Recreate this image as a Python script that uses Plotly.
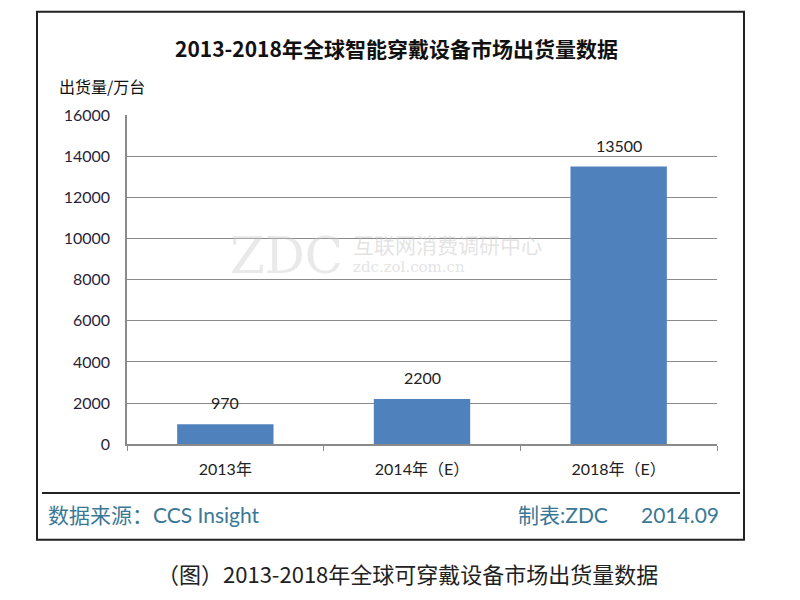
import plotly.graph_objects as go

categories = ["2013年", "2014年（E）", "2018年（E）"]
values = [970, 2200, 13500]
y_ticks = [0, 2000, 4000, 6000, 8000, 10000, 12000, 14000, 16000]

W, H = 800, 600
# vertical calibration of the rendered page
SY, OY = 0.974, 8.26
def px(x):
    return x / W
def py(y):
    return 1 - ((y - OY) / SY) / H

FONT = "Lato, 'Noto Sans CJK SC', sans-serif"
CJK = "'Noto Sans CJK SC', sans-serif"

fig = go.Figure()
fig.add_trace(go.Bar(
    x=categories, y=values,
    marker=dict(color="#4f81bd", line=dict(width=0)),
    width=0.49,
))

for c, v in zip(categories, values):
    fig.add_annotation(x=c, y=v, xref="x", yref="y", text=str(v), showarrow=False,
                       yanchor="bottom", yshift=10,
                       font=dict(family=FONT, size=16, color="#222222"))

fig.update_layout(
    width=W, height=H, margin=dict(l=0, r=0, t=0, b=0),
    paper_bgcolor="white", plot_bgcolor="white",
    showlegend=False,
    xaxis=dict(domain=[px(127), px(717)], anchor="y",
               showline=True, linecolor="#8a8a8a", linewidth=1.5,
               ticks="outside", tickson="boundaries", ticklen=5, tickcolor="#8a8a8a",
               ticklabelstandoff=10,
               tickfont=dict(family=FONT, size=16, color="#222222"),
               showgrid=False),
    yaxis=dict(domain=[py(445), py(114)], anchor="x", range=[0, 16000],
               tickvals=y_ticks, ticktext=[str(t) for t in y_ticks],
               showline=True, linecolor="#8a8a8a", linewidth=1.5,
               showgrid=True, gridcolor="#8a8a8a", gridwidth=1.2,
               ticks="", ticklabelstandoff=12,
               tickfont=dict(family=FONT, size=16, color="#2a1f3a"),
               zeroline=False),
)

shapes = [
    dict(type="rect", xref="paper", yref="paper", x0=px(37), x1=px(744), y0=py(541), y1=py(10),
         line=dict(color="#222222", width=2), fillcolor="rgba(0,0,0,0)", layer="below"),
    dict(type="line", xref="paper", yref="paper", x0=px(42), x1=px(740), y0=py(494), y1=py(494),
         line=dict(color="#222222", width=2)),
]
fig.update_layout(shapes=shapes)

ann = [
    dict(text="<b>2013-2018年全球智能穿戴设备市场出货量数据</b>", x=px(396), y=py(46),
         font=dict(family=CJK, size=21, color="#111111")),
    dict(text="出货量/万台", x=px(57), y=py(85), xanchor="left",
         font=dict(family=CJK, size=16, color="#111111")),
    dict(text="数据来源：CCS Insight", x=px(46), y=py(516), xanchor="left",
         font=dict(family=FONT, size=21, color="#3a7896")),
    dict(text="制表:ZDC", x=px(516), y=py(516), xanchor="left",
         font=dict(family=FONT, size=21, color="#3a7896")),
    dict(text="2014.09", x=px(721), y=py(516), xanchor="right",
         font=dict(family=FONT, size=21, color="#3a7896")),
    dict(text="（图）2013-2018年全球可穿戴设备市场出货量数据", x=px(407), y=py(575),
         font=dict(family=CJK, size=22, color="#222222")),
    # watermark
    dict(text="ZDC", x=px(345), y=py(256), xanchor="right",
         font=dict(family="DejaVu Serif, serif", size=50, color="rgba(200,200,200,0.4)")),
    dict(text="互联网消费调研中心", x=px(351), y=py(244), xanchor="left",
         font=dict(family=CJK, size=21, color="rgba(200,200,200,0.5)")),
    dict(text="zdc.zol.com.cn", x=px(351), y=py(267), xanchor="left",
         font=dict(family="DejaVu Serif, serif", size=15, color="rgba(200,200,200,0.5)")),
]
for a in ann:
    a.update(xref="paper", yref="paper", showarrow=False)
    a.setdefault("xanchor", "center")
    a.setdefault("yanchor", "middle")
    fig.add_annotation(**a)

fig.write_html("out.html")
